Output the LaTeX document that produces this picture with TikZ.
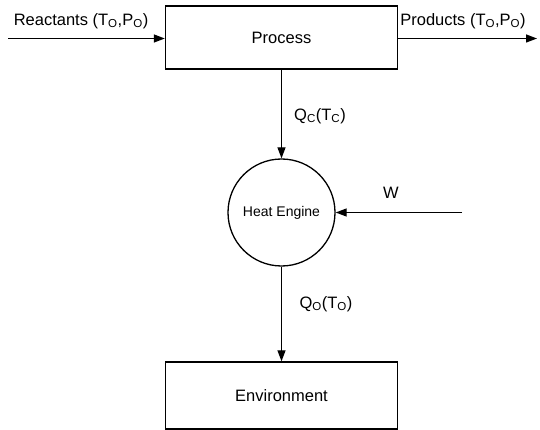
\documentclass[tikz,border=0pt]{standalone}
\usepackage{fontspec}
\setmainfont{Liberation Sans}
\usetikzlibrary{arrows.meta}
\begin{document}
\begin{tikzpicture}[x=1pt,y=-1pt,
  boxnode/.style={draw,line width=1.4pt,minimum width=232pt,minimum height=63pt,inner sep=0pt,font=\fontsize{16.5}{18}\selectfont},
  engine/.style={draw,circle,line width=1.3pt,minimum size=107pt,inner sep=0pt,font=\fontsize{14}{16}\selectfont},
  lbl/.style={font=\fontsize{16.5}{18}\selectfont,inner sep=0pt},
  flow/.style={line width=1.3pt,-{Triangle[length=11pt,width=8pt]}}]
\useasboundingbox (0,0) rectangle (540,430);
\node[boxnode] (proc) at (281.5,37.5) {Process};
\node[engine] (eng) at (281.5,212.5) {Heat Engine};
\node[boxnode,minimum height=67pt] (env) at (281.5,395.5) {Environment};
\coordinate (rin) at (8,38.5);
\coordinate (rout) at (537,38.5);
\coordinate (win) at (462,212.5);
\draw[flow] (rin) -- (rin -| proc.west);
\draw[flow] (rout -| proc.east) -- (rout);
\draw[flow] (proc.south) -- (eng.north);
\draw[flow] (win) -- (eng.east);
\draw[flow] (eng.south) -- (env.north);
\node[lbl] (rl) at (81,21) {Reactants (T\textsubscript{O},P\textsubscript{O})};
\node[lbl] (pl) at (463,21) {Products (T\textsubscript{O},P\textsubscript{O})};
\node[lbl] (qc) at (320,116) {Q\textsubscript{C}(T\textsubscript{C})};
\node[lbl] (wl) at (391,193) {W};
\node[lbl] (qo) at (326,304) {Q\textsubscript{O}(T\textsubscript{O})};
\end{tikzpicture}
\end{document}
